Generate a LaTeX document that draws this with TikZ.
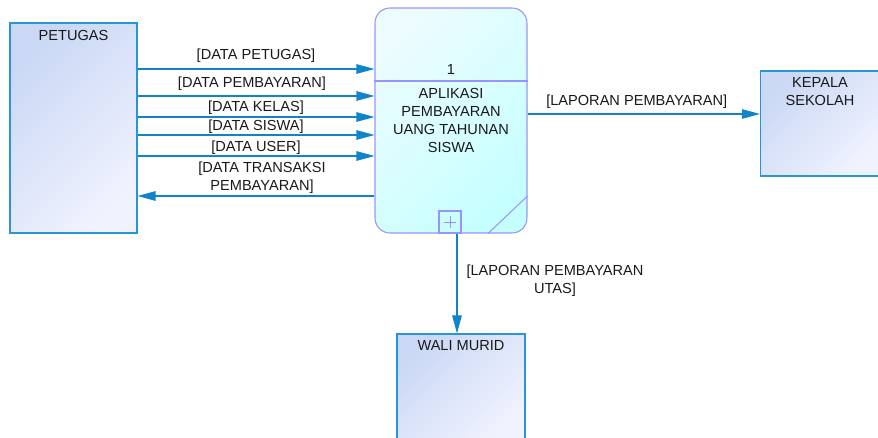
\documentclass[tikz,border=0pt]{standalone}
\usepackage{fontspec}
\setmainfont{Liberation Sans}
\usetikzlibrary{arrows.meta,positioning,calc}
\definecolor{flowBlue}{RGB}{16,132,200}
\definecolor{entEdge}{RGB}{40,150,210}
\definecolor{entDark}{RGB}{202,216,245}
\definecolor{entLight}{RGB}{240,242,254}
\definecolor{procEdge}{RGB}{150,150,250}
\definecolor{procLight}{RGB}{236,252,255}
\definecolor{procDark}{RGB}{198,255,255}

\begin{document}
\begin{tikzpicture}[x=0.02cm, y=-0.02cm,
    txt/.style={font=\fontsize{8.3}{10.3}\selectfont, text=black!90},
    entity/.style={draw=entEdge, line width=0.6pt, top color=entDark,
      bottom color=entLight, shading angle=45, inner sep=0pt},
    enttext/.style={txt, align=center, anchor=north, inner sep=0pt, yshift=-0.14cm},
    proc/.style={draw=procEdge, line width=0.6pt, rounded corners=0.3cm,
      top color=procLight, bottom color=procDark, shading angle=45,
      minimum width=3.04cm, minimum height=4.5cm, inner sep=0pt},
    flow/.style={draw=flowBlue, line width=0.6pt,
      -{Triangle[length=0.36cm, width=0.19cm]}},
    flowlbl/.style={txt, align=center, inner sep=0pt}]
  \clip (0,0) rectangle (878,438);
  % External entities
  \node[entity, minimum width=2.54cm, minimum height=4.2cm,
    label={[enttext]north:PETUGAS}] (petugas) at (73.5,128) {};
  \node[entity, minimum width=2.38cm, minimum height=2.1cm,
    label={[enttext]north:KEPALA\\SEKOLAH}] (kepsek) at (820,123.5) {};
  \node[entity, minimum width=2.56cm, minimum height=2.14cm,
    label={[enttext]north:WALI MURID}] (wali) at (461,387.5) {};
  % Process
  \node[proc, txt, align=center] (proc) at (451,120.5)
    {APLIKASI\\PEMBAYARAN\\UANG TAHUNAN\\SISWA};
  \node[txt] (num) at (451,69) {1};
  \draw[procEdge, line width=0.6pt] (proc.west |- 0,81) -- (proc.east |- 0,81);
  \node[draw=procEdge, line width=0.6pt, minimum size=0.44cm, inner sep=0pt,
    anchor=south] (plus) at (proc.south -| 450,0) {};
  \draw[procEdge, line width=0.5pt]
    ([xshift=-0.12cm]plus.center) -- ([xshift=0.12cm]plus.center)
    ([yshift=-0.12cm]plus.center) -- ([yshift=0.12cm]plus.center);
  \draw[procEdge, line width=0.6pt] (proc.south -| 488,0) -- (proc.east |- 0,196);
  % Data flows
  \draw[flow] (petugas.east |- 0,69) -- (proc.west |- 0,69)
    node[midway, flowlbl, yshift=0.26cm] {[DATA PETUGAS]};
  \draw[flow] (petugas.east |- 0,96) -- (proc.west |- 0,96)
    node[midway, flowlbl, yshift=0.24cm, xshift=-0.08cm] {[DATA PEMBAYARAN]};
  \draw[flow] (petugas.east |- 0,117) -- (proc.west |- 0,117)
    node[midway, flowlbl, yshift=0.18cm] {[DATA KELAS]};
  \draw[flow] (petugas.east |- 0,135) -- (proc.west |- 0,135)
    node[midway, flowlbl, yshift=0.16cm] {[DATA SISWA]};
  \draw[flow] (petugas.east |- 0,156) -- (proc.west |- 0,156)
    node[midway, flowlbl, yshift=0.16cm] {[DATA USER]};
  \draw[flow] (proc.west |- 0,196) -- (petugas.east |- 0,196)
    node[midway, flowlbl, yshift=0.37cm, xshift=0.12cm] {[DATA TRANSAKSI\\PEMBAYARAN]};
  \draw[flow] (proc.east |- 0,114) -- (kepsek.west |- 0,114)
    node[midway, flowlbl, yshift=0.24cm, xshift=-0.14cm] {[LAPORAN PEMBAYARAN]};
  \draw[flow] (proc.south -| 457,0) -- (wali.north -| 457,0)
    node[midway, flowlbl, anchor=west, xshift=0.18cm, yshift=0.05cm]
    {[LAPORAN PEMBAYARAN\\UTAS]};
\end{tikzpicture}
\end{document}
